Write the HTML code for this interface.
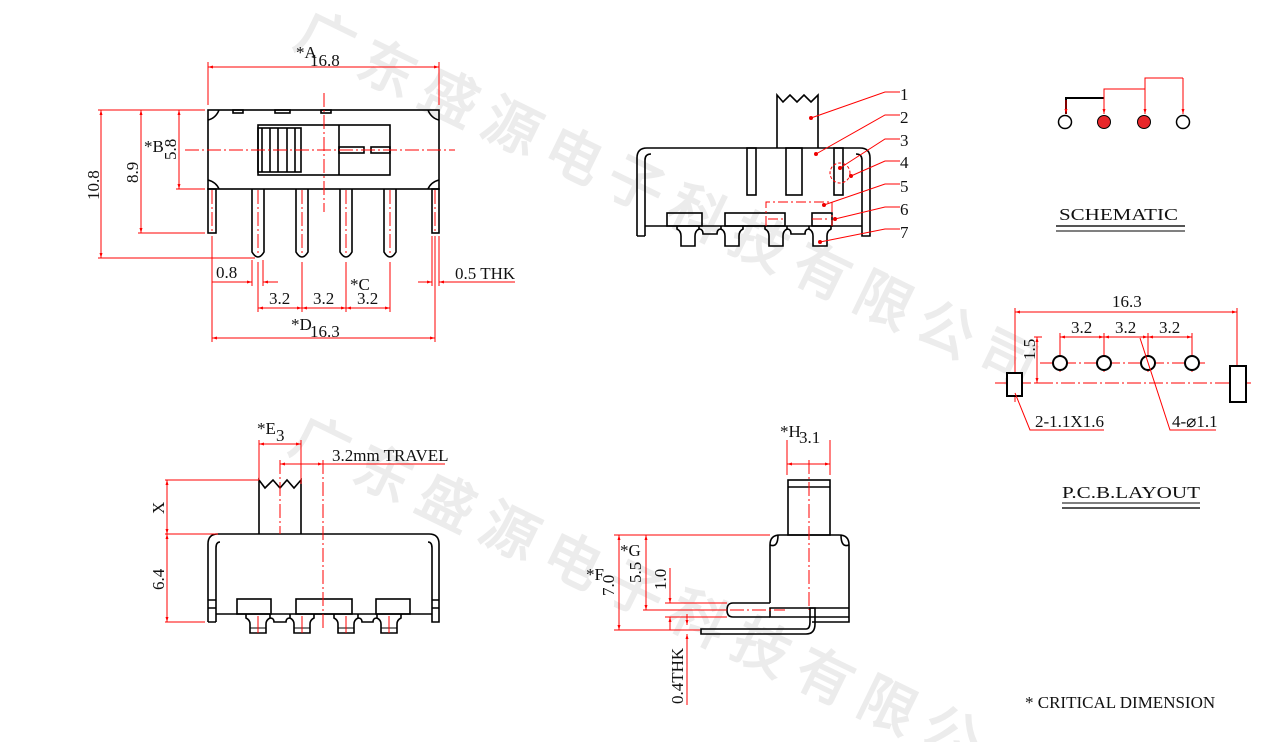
<!DOCTYPE html>
<html><head><meta charset="utf-8"><style>
html,body{margin:0;padding:0;background:#fff;}
svg{display:block;}
text{font-family:"Liberation Serif",serif;}
.k{stroke:#000;stroke-width:1.6;fill:none;}
.kf{stroke:#000;stroke-width:1.6;fill:#fff;}
.r{stroke:#f00;stroke-width:1;fill:none;}
.rc{stroke:#f00;stroke-width:1;fill:none;stroke-dasharray:14 3 2 3;}
.t{font-size:17px;fill:#111;}
.wm{font-family:"Noto Sans CJK SC",sans-serif;font-size:56px;font-weight:bold;fill:#ececec;}
</style></head><body>
<svg width="1265" height="742" viewBox="0 0 1265 742" xmlns="http://www.w3.org/2000/svg">
<defs>
<marker id="a" viewBox="0 0 10 10" refX="10" refY="5" markerWidth="7" markerHeight="5" orient="auto-start-reverse"><path d="M0 2 L10 5 L0 8 z" fill="#f00"/></marker>
</defs>
<g class="wm">
<text transform="translate(292,45) rotate(26)">广</text>
<text transform="translate(354,74) rotate(26)">东</text>
<text transform="translate(416,103) rotate(26)">盛</text>
<text transform="translate(478,132) rotate(26)">源</text>
<text transform="translate(540,161) rotate(26)">电</text>
<text transform="translate(602,190) rotate(26)">子</text>
<text transform="translate(664,219) rotate(26)">科</text>
<text transform="translate(726,248) rotate(26)">技</text>
<text transform="translate(788,277) rotate(26)">有</text>
<text transform="translate(850,306) rotate(26)">限</text>
<text transform="translate(912,335) rotate(26)">公</text>
<text transform="translate(974,364) rotate(26)">司</text>
<text transform="translate(287,450) rotate(26)">广</text>
<text transform="translate(350,479) rotate(26)">东</text>
<text transform="translate(413,508) rotate(26)">盛</text>
<text transform="translate(476,537) rotate(26)">源</text>
<text transform="translate(539,566) rotate(26)">电</text>
<text transform="translate(602,595) rotate(26)">子</text>
<text transform="translate(665,624) rotate(26)">科</text>
<text transform="translate(728,653) rotate(26)">技</text>
<text transform="translate(791,682) rotate(26)">有</text>
<text transform="translate(854,711) rotate(26)">限</text>
<text transform="translate(917,740) rotate(26)">公</text>
</g>

<!-- TOP-LEFT FRONT VIEW -->
<g>
<rect class="k" x="208" y="110" width="231" height="79"/>
<rect class="k" x="208" y="189" width="8" height="44"/>
<rect class="k" x="432" y="189" width="7" height="44"/>
<path class="k" d="M208 120 Q216 118 219 110 M439 120 Q431 118 428 110 M208 180 Q216 182 219 189 M439 180 Q431 182 428 189"/>
<rect class="k" x="233" y="110" width="10" height="3"/>
<rect class="k" x="275" y="110" width="15" height="3"/>
<rect class="k" x="321" y="110" width="10" height="3"/>
<rect class="k" x="258" y="125" width="132" height="50"/>
<rect class="k" x="258" y="128" width="43" height="44"/>
<path class="k" d="M262 128V172 M270 128V172 M278 128V172 M287 128V172 M295 128V172 M339 125V175"/>
<rect class="k" x="339" y="147" width="25" height="6"/>
<rect class="k" x="371" y="147" width="19" height="6"/>
<path class="k" d="M252 189V252 Q258 262 264 252V189 M296 189V252 Q302 262 308 252V189 M340 189V252 Q346 262 352 252V189 M384 189V252 Q390 262 396 252V189"/>
<path class="rc" d="M185 150H455 M324 93V212 M258 190V256 M302 190V256 M346 190V256 M390 190V256 M212 190V232 M435 190V232"/>
<path class="r" d="M208 105V62 M439 105V62"/>
<path class="r" d="M208 67H439" marker-start="url(#a)" marker-end="url(#a)"/>
<text class="t" x="296" y="58" font-size="14">*A</text><text class="t" x="310" y="66">16.8</text>
<path class="r" d="M98 110H205 M98 258H255 M138 233H205 M176 189H205"/>
<path class="r" d="M101 110V258" marker-start="url(#a)" marker-end="url(#a)"/>
<path class="r" d="M141 110V233" marker-start="url(#a)" marker-end="url(#a)"/>
<path class="r" d="M179 110V189" marker-start="url(#a)" marker-end="url(#a)"/>
<text class="t" transform="translate(99,200) rotate(-90)">10.8</text>
<text class="t" transform="translate(138,183) rotate(-90)">8.9</text>
<text class="t" transform="translate(176,160) rotate(-90)">5.8</text>
<text class="t" x="144" y="152">*B</text>
<path class="r" d="M212 236V342 M252 260V286 M263 260V286 M302 262V312 M346 262V312 M390 262V312 M258 262V312 M435 236V342 M432 236V286 M439 236V286"/>
<path class="r" d="M212 282H252" marker-end="url(#a)"/>
<path class="r" d="M263 282H278" marker-start="url(#a)"/>
<text class="t" x="216" y="278">0.8</text>
<path class="r" d="M258 308H302" marker-start="url(#a)" marker-end="url(#a)"/>
<path class="r" d="M302 308H346" marker-start="url(#a)" marker-end="url(#a)"/>
<path class="r" d="M346 308H390" marker-start="url(#a)" marker-end="url(#a)"/>
<text class="t" x="269" y="304">3.2</text><text class="t" x="313" y="304">3.2</text><text class="t" x="357" y="304">3.2</text>
<text class="t" x="350" y="290">*C</text>
<path class="r" d="M212 338H435" marker-start="url(#a)" marker-end="url(#a)"/>
<text class="t" x="291" y="330">*D</text><text class="t" x="310" y="337">16.3</text>
<path class="r" d="M418 282H432" marker-end="url(#a)"/>
<path class="r" d="M439 282H515" marker-start="url(#a)"/>
<text class="t" x="455" y="279">0.5 THK</text>
</g>

<!-- TOP-MIDDLE SIDE VIEW -->
<g>
<path class="k" d="M777 148V95 L783 102 L790 95 L797 102 L804 95 L811 102 L818 95 V148"/>
<path class="k" d="M637 236V158 Q637 148 647 148 H860 Q870 148 870 158 V236 H862 V160 Q862 154 856 154 M645 236V160 Q645 154 651 154 M637 236H645 M645 226H862"/>
<rect class="k" x="747" y="148" width="9" height="47"/>
<rect class="k" x="786" y="148" width="16" height="47"/>
<rect class="k" x="834" y="148" width="9" height="47"/>
<rect class="k" x="667" y="213" width="35" height="13"/>
<rect class="k" x="725" y="213" width="60" height="13"/>
<rect class="k" x="812" y="213" width="20" height="13"/>
<g class="k">
<path d="M677 226V229 Q681 231 681 236V246H695V236Q695 231 699 229V226"/>
<path d="M721 226V229 Q725 231 725 236V246H739V236Q739 231 743 229V226"/>
<path d="M765 226V229 Q769 231 769 236V246H783V236Q783 231 787 229V226"/>
<path d="M809 226V229 Q813 231 813 236V246H827V236Q827 231 831 229V226"/>
<path d="M699 229Q703 229 703 234H717Q717 229 721 229 M787 229Q791 229 791 234H805Q805 229 809 229"/>
</g>
<circle class="r" cx="840" cy="173" r="10" stroke-dasharray="3 2"/>
<path class="r" d="M766 226V202H832V226 M768 219H785 M812 219H830" stroke-dasharray="10 3 2 3"/>
<g class="r">
<path d="M811 118L885 92H900"/><path d="M816 154L885 115H900"/><path d="M840 168L885 139H900"/>
<path d="M851 176L885 161H900"/><path d="M824 205L885 184H900"/><path d="M835 219L885 207H900"/>
<path d="M820 242L885 229H900"/>
</g>
<g fill="#e00"><circle cx="811" cy="118" r="2"/><circle cx="816" cy="154" r="2"/><circle cx="840" cy="168" r="2"/><circle cx="851" cy="176" r="2"/><circle cx="824" cy="205" r="2"/><circle cx="835" cy="219" r="2"/><circle cx="820" cy="242" r="2"/></g>
<g class="t" font-size="21"><text x="900" y="100">1</text><text x="900" y="123">2</text><text x="900" y="146">3</text><text x="900" y="168">4</text><text x="900" y="192">5</text><text x="900" y="215">6</text><text x="900" y="238">7</text></g>
</g>

<!-- SCHEMATIC -->
<g>
<path d="M1066 114V98H1104" stroke="#000" stroke-width="2" fill="none"/>
<path class="r" d="M1104 98V89H1145V78H1183" stroke-width="1.5"/>
<path class="r" d="M1066 100V114" marker-end="url(#a)"/>
<path class="r" d="M1104 98V114" marker-end="url(#a)"/>
<path class="r" d="M1145 89V114" marker-end="url(#a)"/>
<path class="r" d="M1183 78V114" marker-end="url(#a)"/>
<circle cx="1065" cy="122" r="6.5" fill="#fff" stroke="#000" stroke-width="1.5"/>
<circle cx="1104" cy="122" r="6.5" fill="#e8262a" stroke="#000" stroke-width="1"/>
<circle cx="1144" cy="122" r="6.5" fill="#e8262a" stroke="#000" stroke-width="1"/>
<circle cx="1183" cy="122" r="6.5" fill="#fff" stroke="#000" stroke-width="1.5"/>
<text class="t" x="1059" y="220" font-size="22" textLength="119" lengthAdjust="spacingAndGlyphs">SCHEMATIC</text>
<path d="M1056 226H1185" stroke="#555" stroke-width="2"/><path d="M1056 231H1185" stroke="#000" stroke-width="1"/>
</g>

<!-- PCB LAYOUT -->
<g>
<path class="r" d="M1015 308V402 M1237 308V402 M1060 333V372 M1104 333V372 M1148 333V372 M1192 333V372 M1034 337H1042 M1034 383H1042"/>
<path class="r" d="M1015 312H1237" marker-start="url(#a)" marker-end="url(#a)"/>
<text class="t" x="1112" y="307">16.3</text>
<path class="r" d="M1060 337H1104" marker-start="url(#a)" marker-end="url(#a)"/>
<path class="r" d="M1104 337H1148" marker-start="url(#a)" marker-end="url(#a)"/>
<path class="r" d="M1148 337H1192" marker-start="url(#a)" marker-end="url(#a)"/>
<text class="t" x="1071" y="333">3.2</text><text class="t" x="1115" y="333">3.2</text><text class="t" x="1159" y="333">3.2</text>
<path class="r" d="M1037 337V383" marker-start="url(#a)" marker-end="url(#a)"/>
<text class="t" transform="translate(1035,360) rotate(-90)">1.5</text>
<path class="rc" d="M1040 363H1205 M995 383H1252"/>
<g stroke="#000" stroke-width="2" fill="#fff">
<circle cx="1060" cy="363" r="7"/><circle cx="1104" cy="363" r="7"/><circle cx="1148" cy="363" r="7"/><circle cx="1192" cy="363" r="7"/>
<rect x="1007" y="373" width="15" height="23"/><rect x="1230" y="366" width="16" height="36"/>
</g>
<path class="r" d="M1015 393L1030 430H1104 M1140 338L1170 430H1216"/>
<text class="t" x="1035" y="427">2-1.1X1.6</text>
<text class="t" x="1172" y="427">4-⌀1.1</text>
<text class="t" x="1062" y="498" font-size="23" textLength="138" lengthAdjust="spacingAndGlyphs">P.C.B.LAYOUT</text>
<path d="M1062 503H1200" stroke="#000" stroke-width="1"/><path d="M1062 508H1200" stroke="#555" stroke-width="2"/>
<text class="t" x="1025" y="708" font-size="16">* CRITICAL  DIMENSION</text>
</g>

<!-- BOTTOM-LEFT VIEW -->
<g>
<path class="k" d="M259 534V480 L265 488 L273 480 L280 488 L287 480 L294 488 L301 480 V534"/>
<path class="k" d="M208 622V544 Q208 534 218 534 H429 Q439 534 439 544 V622 H432 V548 Q432 542 428 542 M216 622V548 Q216 542 220 542 M208 622H216 M216 614H432 M208 600H216 M208 608H216 M432 600H439 M432 608H439"/>
<rect class="k" x="237" y="599" width="34" height="15"/>
<rect class="k" x="296" y="599" width="56" height="15"/>
<rect class="k" x="376" y="599" width="34" height="15"/>
<g class="k">
<path d="M246 614V618Q250 620 250 624V633H266V624Q266 620 270 618V614"/>
<path d="M290 614V618Q294 620 294 624V633H310V624Q310 620 314 618V614"/>
<path d="M334 614V618Q338 620 338 624V633H354V624Q354 620 358 618V614"/>
<path d="M377 614V618Q381 620 381 624V633H397V624Q397 620 401 618V614"/>
<path d="M270 618Q274 618 274 622H286Q286 618 290 618 M358 618Q362 618 362 622H373Q373 618 377 618"/>
<path d="M250 628H266 M294 628H310 M338 628H354 M381 628H397" stroke-width="1"/>
</g>
<path class="r" d="M258 616V633 M302 616V633 M346 616V633 M389 616V633"/>
<path class="rc" d="M280 460V534 M323 460V628"/>
<path class="r" d="M165 480H259 M165 534H218 M165 622H205 M259 440V480 M301 440V484"/>
<path class="r" d="M167 480V534" marker-start="url(#a)" marker-end="url(#a)"/>
<path class="r" d="M167 534V622" marker-start="url(#a)" marker-end="url(#a)"/>
<text class="t" transform="translate(164,514) rotate(-90)">X</text>
<text class="t" transform="translate(164,590) rotate(-90)">6.4</text>
<path class="r" d="M259 444H301" marker-start="url(#a)" marker-end="url(#a)"/>
<text class="t" x="257" y="434">*E</text><text class="t" x="276" y="441">3</text>
<path class="r" d="M280 464H323" marker-start="url(#a)" marker-end="url(#a)"/>
<path class="r" d="M323 464H445"/>
<text class="t" x="332" y="461">3.2mm TRAVEL</text>
</g>

<!-- BOTTOM-MIDDLE SIDE VIEW -->
<g>
<rect class="k" x="788" y="480" width="42" height="55"/>
<path class="k" d="M788 487H830"/>
<path class="k" d="M770 603V545 Q770 535 780 535 H839 Q849 535 849 545 V608 H810 M810 608H770 V617 H849 M849 608V622 H812"/>
<path class="k" d="M770 545Q778 548 778 535 M849 545Q841 548 841 535"/>
<path class="k" d="M770 603H733 Q727 603 727 610 Q727 617 733 617 H770"/>
<path class="k" d="M701 629H806 Q810 629 810 622 V608 H815 V624 Q815 634 806 634 H701 Z"/>
<path class="rc" d="M809 460V610 M730 610H785"/>
<path class="r" d="M787 440V475 M830 440V475"/>
<path class="r" d="M787 464H830" marker-start="url(#a)" marker-end="url(#a)"/>
<text class="t" x="780" y="437">*H</text><text class="t" x="799" y="443">3.1</text>
<path class="r" d="M614 535H770 M643 610H727 M614 630H700 M665 603H727 M665 617H727 M685 630H697"/>
<path class="r" d="M619 535V630" marker-start="url(#a)" marker-end="url(#a)"/>
<path class="r" d="M646 535V610" marker-start="url(#a)" marker-end="url(#a)"/>
<path class="r" d="M670 568V603" marker-end="url(#a)"/>
<path class="r" d="M670 617V630" marker-start="url(#a)"/>
<path class="r" d="M687 614V625" marker-end="url(#a)"/>
<path class="r" d="M687 634V705" marker-start="url(#a)"/>
<text class="t" x="586" y="580">*F</text>
<text class="t" transform="translate(614,596) rotate(-90)">7.0</text>
<text class="t" x="620" y="556">*G</text>
<text class="t" transform="translate(641,583) rotate(-90)">5.5</text>
<text class="t" transform="translate(666,590) rotate(-90)">1.0</text>
<text class="t" transform="translate(683,704) rotate(-90)">0.4THK</text>
</g>
</svg>
</body></html>
